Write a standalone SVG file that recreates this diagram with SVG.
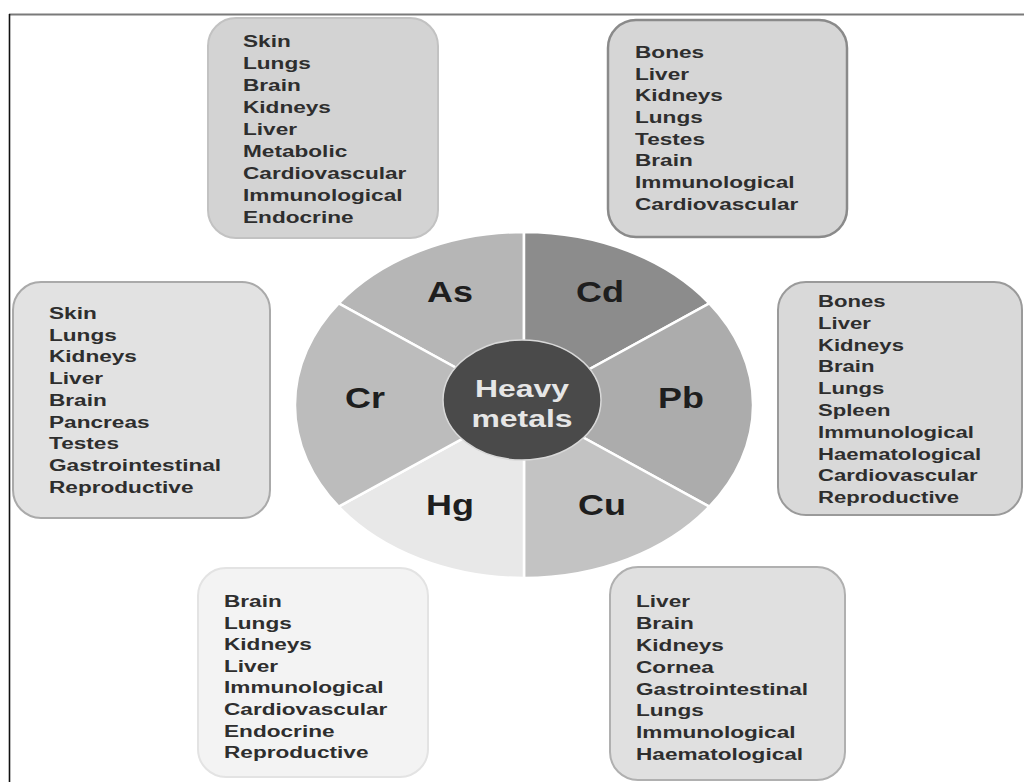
<svg xmlns="http://www.w3.org/2000/svg" width="1024" height="782" viewBox="0 0 1024 782">
<style>
.lst{font-family:"Liberation Sans",Arial,sans-serif;font-weight:bold;font-size:17px;fill:#2e2e2e}
.sym{font-family:"Liberation Sans",Arial,sans-serif;font-weight:bold;font-size:29px;fill:#1e1e1e;text-anchor:middle}
.ctr{font-family:"Liberation Sans",Arial,sans-serif;font-weight:bold;font-size:24px;fill:#e6e6e6;text-anchor:middle}
.seg{stroke:#ffffff;stroke-width:2.5;stroke-linejoin:round}
.box{stroke-width:2}
</style>
<rect x="0" y="0" width="1024" height="782" fill="#ffffff"/>
<line x1="9" y1="14.5" x2="1024" y2="14.5" stroke="#7a7a7a" stroke-width="2"/>
<line x1="9.5" y1="14" x2="9.5" y2="782" stroke="#111111" stroke-width="1.6"/>

<g id="node-As-box">
<rect class="box" x="208" y="18" width="230" height="220" rx="28" fill="#d3d3d3" stroke="#c2c2c2"/>
<g class="lst" transform="translate(243,0) scale(1.33,1)">
<text x="0" y="47">Skin</text><text x="0" y="69">Lungs</text><text x="0" y="91">Brain</text><text x="0" y="113">Kidneys</text><text x="0" y="135">Liver</text><text x="0" y="157">Metabolic</text><text x="0" y="179">Cardiovascular</text><text x="0" y="201">Immunological</text><text x="0" y="223">Endocrine</text>
</g>
</g>

<g id="node-Cd-box">
<rect x="608" y="20" width="239" height="217" rx="28" fill="#d6d6d6" stroke="#8a8a8a" stroke-width="2.5"/>
<g class="lst" transform="translate(635,0) scale(1.33,1)">
<text x="0" y="58">Bones</text><text x="0" y="79.7">Liver</text><text x="0" y="101.4">Kidneys</text><text x="0" y="123.1">Lungs</text><text x="0" y="144.8">Testes</text><text x="0" y="166.5">Brain</text><text x="0" y="188.2">Immunological</text><text x="0" y="209.9">Cardiovascular</text>
</g>
</g>

<g id="node-Cr-box">
<rect class="box" x="13" y="282" width="257" height="236" rx="28" fill="#e2e2e2" stroke="#aaaaaa"/>
<g class="lst" transform="translate(49,0) scale(1.33,1)">
<text x="0" y="319">Skin</text><text x="0" y="340.75">Lungs</text><text x="0" y="362.5">Kidneys</text><text x="0" y="384.25">Liver</text><text x="0" y="406">Brain</text><text x="0" y="427.75">Pancreas</text><text x="0" y="449.5">Testes</text><text x="0" y="471.25">Gastrointestinal</text><text x="0" y="493">Reproductive</text>
</g>
</g>

<g id="node-Pb-box">
<rect class="box" x="778" y="282" width="244" height="233" rx="28" fill="#d9d9d9" stroke="#9a9a9a"/>
<g class="lst" transform="translate(818,0) scale(1.3,1)">
<text x="0" y="307">Bones</text><text x="0" y="328.8">Liver</text><text x="0" y="350.6">Kidneys</text><text x="0" y="372.4">Brain</text><text x="0" y="394.2">Lungs</text><text x="0" y="416">Spleen</text><text x="0" y="437.8">Immunological</text><text x="0" y="459.6">Haematological</text><text x="0" y="481.4">Cardiovascular</text><text x="0" y="503.2">Reproductive</text>
</g>
</g>

<g id="node-Hg-box">
<rect class="box" x="198" y="568" width="230" height="209" rx="28" fill="#f3f3f3" stroke="#e3e3e3"/>
<g class="lst" transform="translate(224,0) scale(1.33,1)">
<text x="0" y="607">Brain</text><text x="0" y="628.6">Lungs</text><text x="0" y="650.2">Kidneys</text><text x="0" y="671.8">Liver</text><text x="0" y="693.4">Immunological</text><text x="0" y="715">Cardiovascular</text><text x="0" y="736.6">Endocrine</text><text x="0" y="758.2">Reproductive</text>
</g>
</g>

<g id="node-Cu-box">
<rect class="box" x="610" y="567" width="235" height="213" rx="28" fill="#e0e0e0" stroke="#b0b0b0"/>
<g class="lst" transform="translate(636,0) scale(1.33,1)">
<text x="0" y="607">Liver</text><text x="0" y="628.9">Brain</text><text x="0" y="650.8">Kidneys</text><text x="0" y="672.7">Cornea</text><text x="0" y="694.6">Gastrointestinal</text><text x="0" y="716.5">Lungs</text><text x="0" y="738.4">Immunological</text><text x="0" y="760.3">Haematological</text>
</g>
</g>

<g id="connectors"></g>

<g id="node-pie">
<path id="seg-As" class="seg" fill="#b6b6b6" d="M524 405 L338.7 303.3 A229 173 0 0 1 524 232 Z"/>
<path id="seg-Cd" class="seg" fill="#8c8c8c" d="M524 405 L524 232 A229 173 0 0 1 709.3 303.3 Z"/>
<path id="seg-Pb" class="seg" fill="#acacac" d="M524 405 L709.3 303.3 A229 173 0 0 1 709.3 506.7 Z"/>
<path id="seg-Cu" class="seg" fill="#c3c3c3" d="M524 405 L709.3 506.7 A229 173 0 0 1 524 578 Z"/>
<path id="seg-Hg" class="seg" fill="#e8e8e8" d="M524 405 L524 578 A229 173 0 0 1 338.7 506.7 Z"/>
<path id="seg-Cr" class="seg" fill="#bcbcbc" d="M524 405 L338.7 506.7 A229 173 0 0 1 338.7 303.3 Z"/>
<g transform="translate(450,302) scale(1.24,1)"><text class="sym" x="0" y="0">As</text></g>
<g transform="translate(600,302) scale(1.24,1)"><text class="sym" x="0" y="0">Cd</text></g>
<g transform="translate(365,408) scale(1.24,1)"><text class="sym" x="0" y="0">Cr</text></g>
<g transform="translate(681,408) scale(1.24,1)"><text class="sym" x="0" y="0">Pb</text></g>
<g transform="translate(450,515) scale(1.24,1)"><text class="sym" x="0" y="0">Hg</text></g>
<g transform="translate(602,515) scale(1.24,1)"><text class="sym" x="0" y="0">Cu</text></g>
</g>

<g id="node-center">
<ellipse cx="522" cy="400" rx="79" ry="60" fill="#4a4a4a" stroke="#d8d8d8" stroke-width="1.5"/>
<g transform="translate(522,0) scale(1.33,1)">
<text class="ctr" x="0" y="397">Heavy</text>
<text class="ctr" x="0" y="427">metals</text>
</g>
</g>
</svg>
